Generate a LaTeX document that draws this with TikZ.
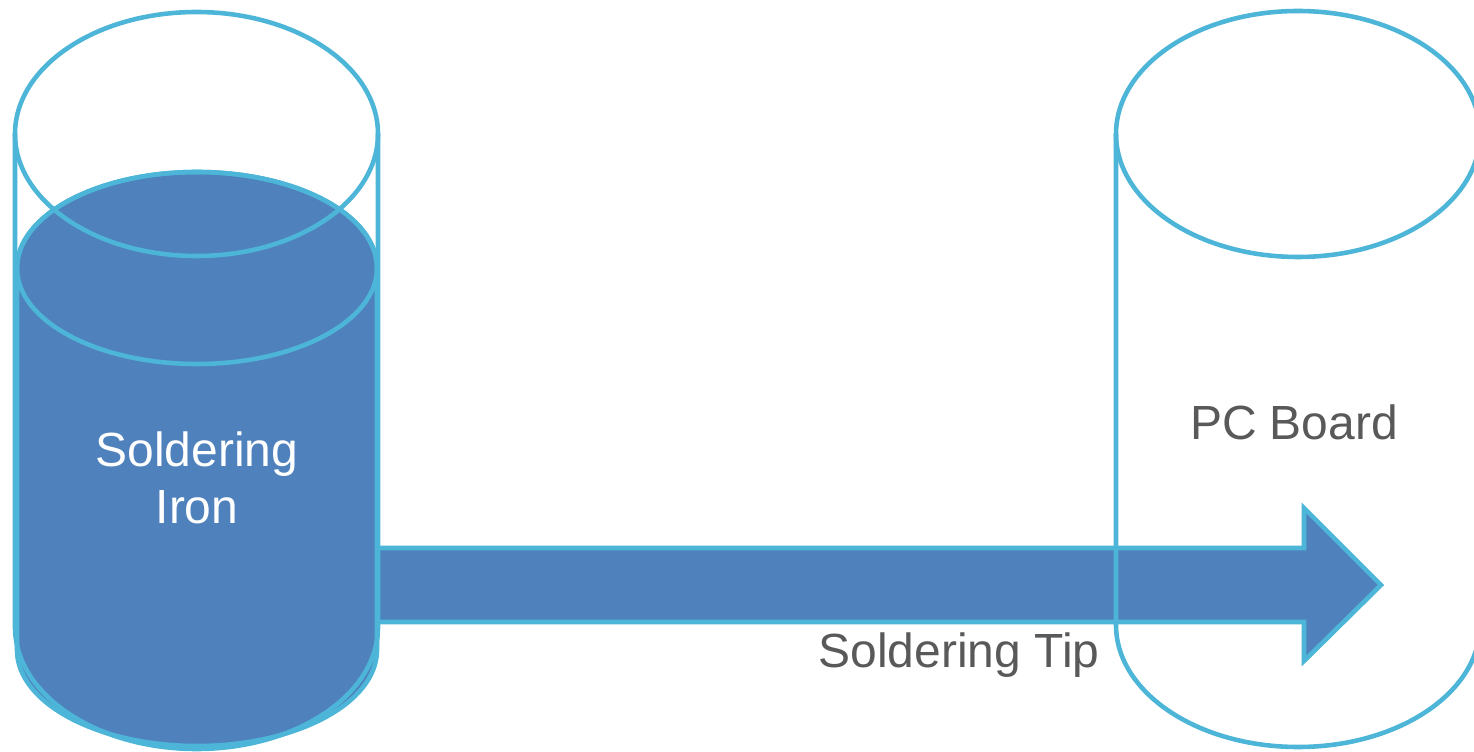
\documentclass[tikz,border=0pt]{standalone}
\usepackage{fontspec}
\setmainfont{Liberation Sans}
\usepackage{tikz}
\usetikzlibrary{positioning,calc}
\definecolor{ironFill}{HTML}{4F81BD}
\definecolor{ironLine}{HTML}{4DB5D7}
\definecolor{labelGray}{HTML}{595959}
\tikzset{
  cylline/.style={draw=ironLine, line width=2.6pt, line join=round},
  cylfill/.style={cylline, fill=ironFill},
  tipshape/.style={cylline, fill=ironFill, line join=miter},
  biglabel/.style={font=\fontsize{27.3}{32.5}\selectfont, align=center, inner sep=0pt}
}

\begin{document}
\begin{tikzpicture}[x=0.02cm, y=0.02cm]
  \useasboundingbox (0,0) rectangle (1474,751);
  % soldering iron (filled body)
  \path[cylfill] (17,483) -- (17,101) arc[start angle=180, end angle=360, x radius=180, y radius=96]
    -- (377,483) arc[start angle=0, end angle=180, x radius=180, y radius=96] -- cycle;
  \draw[cylline] (197,483) ellipse[x radius=180, y radius=96];
  % soldering iron (outer outline)
  \draw[cylline] (15,617) -- (15,124) arc[start angle=180, end angle=360, x radius=181.5, y radius=122]
    -- (378,617);
  \draw[cylline] (196.5,617) ellipse[x radius=181.5, y radius=122];
  % soldering tip
  \draw[tipshape] (378,203) -- (1304,203) -- (1304,243) -- (1381,166) -- (1304,90)
    -- (1304,129) -- (378,129) -- cycle;
  % PC board
  \draw[cylline] (1116,617) -- (1116,126) arc[start angle=180, end angle=360, x radius=182, y radius=122]
    -- (1480,617);
  \draw[cylline] (1298,617) ellipse[x radius=182, y radius=123];
  % labels
  \node[biglabel, text=white] (ironlabel) at (197,273) {Soldering\\Iron};
  \node[biglabel, text=labelGray] (boardlabel) at (1294,329) {PC Board};
  \node[biglabel, text=labelGray] (tiplabel) at (959,96) {Soldering Tip};
\end{tikzpicture}
\end{document}
